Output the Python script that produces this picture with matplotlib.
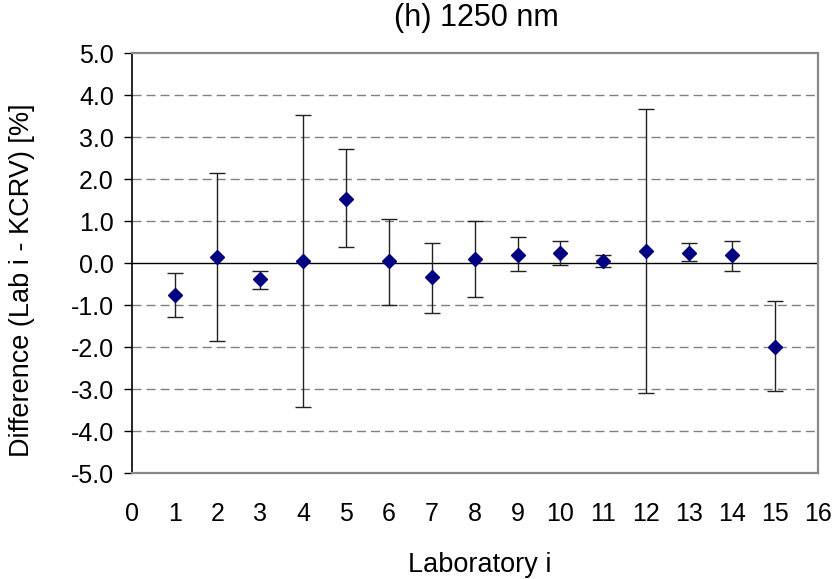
import matplotlib
matplotlib.use('Agg')
import matplotlib.pyplot as plt

plt.rcParams['font.family'] = ['Liberation Sans', 'DejaVu Sans']

# Lab i, difference to KCRV [%], and the error bar ends
labs = [1, 2, 3, 4, 5, 6, 7, 8, 9, 10, 11, 12, 13, 14, 15]
diff = [-0.76, 0.14, -0.38, 0.05, 1.52, 0.05, -0.33, 0.10, 0.19, 0.24, 0.05, 0.29, 0.24, 0.19, -2.00]
upper = [-0.24, 2.14, -0.19, 3.52, 2.72, 1.05, 0.48, 1.00, 0.62, 0.52, 0.19, 3.67, 0.48, 0.52, -0.90]
lower = [-1.28, -1.85, -0.62, -3.43, 0.38, -1.00, -1.19, -0.81, -0.19, -0.05, -0.10, -3.09, 0.05, -0.19, -3.04]

yerr = [[d - lo for d, lo in zip(diff, lower)],
        [up - d for d, up in zip(diff, upper)]]

fig = plt.figure(figsize=(8.32, 5.79), dpi=100)
ax = fig.add_axes([0.1583, 0.1826, 0.8245, 0.7254])

# gridlines
for v in [-4, -3, -2, -1, 1, 2, 3, 4]:
    ax.axhline(v, color='#808080', linestyle=(0, (6.5, 3.6)), linewidth=1, zorder=0)
ax.axhline(0, color='black', linewidth=1, zorder=1)

ax.errorbar(labs, diff, yerr=yerr, fmt='none', ecolor='#222222',
            elinewidth=1, capsize=5.5, capthick=1, zorder=2)
ax.plot(labs, diff, linestyle='none', marker='D', markersize=7.5,
        color='#000080', zorder=3)

ax.set_xlim(0, 16)
ax.set_ylim(-5, 5)
ax.set_xticks(range(0, 17))
ax.set_yticks([-5, -4, -3, -2, -1, 0, 1, 2, 3, 4, 5])
ax.set_yticklabels(['%.1f' % v for v in ax.get_yticks()])
ax.tick_params(axis='x', length=0, pad=21, labelsize=18)
ax.tick_params(axis='y', length=5.8, direction='out', width=1, pad=7, labelsize=18)

for s in ['top', 'right', 'bottom']:
    ax.spines[s].set_color('#888888')
    ax.spines[s].set_linewidth(1.6)
ax.spines['left'].set_color('black')
ax.spines['left'].set_linewidth(1.2)

fig.text(0.573, 0.969, '(h) 1250 nm', fontsize=22, ha='center', va='center')
ax.set_xlabel('Laboratory i', fontsize=19.5, va='center')
ax.xaxis.set_label_coords(0.508, -0.218)
ax.set_ylabel('Difference (Lab i - KCRV) [%]', fontsize=19.5, va='center')
ax.yaxis.set_label_coords(-0.16, 0.46)

fig.savefig('out.png', dpi=100)
